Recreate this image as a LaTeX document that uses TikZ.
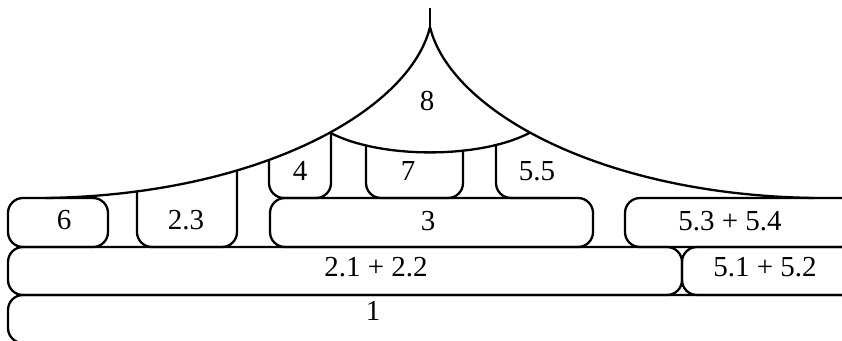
\documentclass[tikz,border=0pt]{standalone}
\usepackage{fontspec}
\setmainfont{Liberation Serif}
\begin{document}
\begin{tikzpicture}[x=1pt,y=-1pt, line width=2.3pt, line join=round,
  box/.style={draw, rounded corners=15pt},
  lbl/.style={inner sep=0pt, font=\fontsize{29}{32}\selectfont}]
\useasboundingbox (0,0) rectangle (842,340);
\clip (0,0) rectangle (842,340);
% open boxes hanging from the tent
\begin{scope}
  \clip (45,198) .. controls (260,195) and (410,110) .. (430,27)
        .. controls (450,110) and (600,195) .. (815,198) -- (815,260) -- (45,260) -- cycle;
  \draw[box] (137,100) -- (137,247) -- (237,247) -- (237,100);
  \draw[box] (269,100) -- (269,198) -- (331,198) -- (331,100);
  \draw[box] (366,144.6) -- (366,198) -- (463,198) -- (463,149.9);
  \draw[box] (496,144.5) -- (496,198) -- (560,198);
\end{scope}
% closed boxes
\draw[box] (8,198) rectangle (108,247);
\draw[box] (270,198) rectangle (593,247);
\draw[box] (625,198) rectangle (856,247);
\draw[box] (8,247) rectangle (682,295);
\draw[box] (682,247) rectangle (856,295);
\draw[box] (8,295) rectangle (856,343);
% tent outline
\draw (45,198) .. controls (260,195) and (410,110) .. (430,27)
      .. controls (450,110) and (600,195) .. (815,198);
\draw (430,8) -- (430,27);
\draw (329.9,132.6) .. controls (380,159) and (480,159) .. (530.1,132.6);
% labels
\node[lbl] (l6) at (64,220) {6};
\node[lbl] (l23) at (186,220) {2.3};
\node[lbl] (l3) at (428,221) {3};
\node[lbl] (l534) at (730,221) {5.3 + 5.4};
\node[lbl] (l212) at (376,267) {2.1 + 2.2};
\node[lbl] (l512) at (765,267) {5.1 + 5.2};
\node[lbl] (l1) at (373,311) {1};
\node[lbl] (l4) at (300,171) {4};
\node[lbl] (l7) at (408,171) {7};
\node[lbl] (l55) at (537,171) {5.5};
\node[lbl] (l8) at (427,101) {8};
\end{tikzpicture}
\end{document}
